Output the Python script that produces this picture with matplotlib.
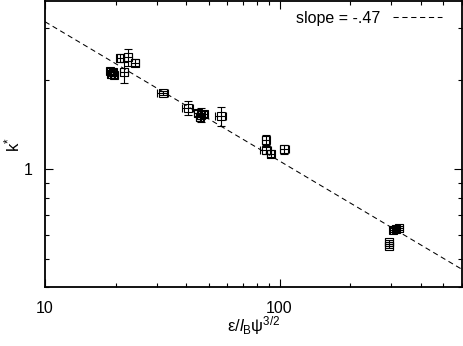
import matplotlib
matplotlib.use("Agg")
import matplotlib.pyplot as plt
import matplotlib.ticker as mticker
import numpy as np

plt.rcParams['font.family'] = ['Liberation Sans', 'DejaVu Sans']
plt.rcParams['mathtext.fontset'] = 'custom'
plt.rcParams['mathtext.rm'] = 'Liberation Sans'
plt.rcParams['mathtext.it'] = 'Liberation Sans:italic'
plt.rcParams['mathtext.bf'] = 'Liberation Sans:bold'

# data: x, x error, y (k*), y error
x_vals = [18.9, 19.5, 19.1, 19.7, 21.7, 20.9, 22.6, 24.2,
          31.8, 40.6, 44.8, 46.1, 47.5, 45.7, 56.1,
          87.2, 87.2, 91.6, 105.0,
          314.8, 324.0, 305.6, 293.8, 293.8]
x_errs = [0.6, 0.6, 0.6, 0.6, 0.9, 0.7, 0.8, 1.0,
          1.8, 2.2, 1.5, 1.5, 1.5, 1.5, 2.8,
          3.0, 5.0, 3.5, 5.0,
          12.0, 12.0, 10.0, 12.0, 12.0]
y_vals = [2.15, 2.13, 2.10, 2.08, 2.13, 2.38, 2.39, 2.29,
          1.81, 1.61, 1.55, 1.53, 1.54, 1.50, 1.51,
          1.26, 1.16, 1.13, 1.17,
          0.629, 0.634, 0.624, 0.569, 0.552]
y_errs = [0.05, 0.05, 0.06, 0.05, 0.18, 0.07, 0.15, 0.06,
          0.03, 0.09, 0.04, 0.08, 0.04, 0.04, 0.11,
          0.05, 0.03, 0.03, 0.04,
          0.01, 0.01, 0.01, 0.008, 0.008]

fit_slope = -0.47
fit_amp = 3.15      # value of fit at x = 10
fit_x = [10, 600]
fit_label = "slope = -.47"

x_tick_labels = ["10", "100"]
y_tick_labels = ["1"]

fig = plt.figure(figsize=(4.64, 3.46), dpi=100)
ax = fig.add_axes([45/464, (346-287.3)/346, 417/464, 286.3/346])

fx = np.array(fit_x, dtype=float)
fy = fit_amp * (fx / 10.0) ** fit_slope
ax.plot(fx, fy, color='black', lw=0.75, linestyle=(0, (5, 3.5)), label=fit_label)

ax.errorbar(x_vals, y_vals, xerr=x_errs, yerr=y_errs, fmt='s', mfc='none',
            mec='black', mew=0.8, ms=5.2, ecolor='black', elinewidth=0.8,
            capsize=2.8, capthick=0.8, color='black')

ax.set_xscale('log')
ax.set_yscale('log')
ax.set_xlim(10, 600)
ax.set_ylim(0.4, 3.7)

ax.xaxis.set_major_locator(mticker.FixedLocator([10, 100]))
ax.xaxis.set_major_formatter(mticker.FixedFormatter(x_tick_labels))
ax.xaxis.set_minor_locator(mticker.LogLocator(base=10, subs=np.arange(2, 10)))
ax.xaxis.set_minor_formatter(mticker.NullFormatter())
ax.yaxis.set_major_locator(mticker.FixedLocator([1]))
ax.yaxis.set_major_formatter(mticker.FixedFormatter(y_tick_labels))
ax.yaxis.set_minor_locator(mticker.LogLocator(base=10, subs=np.arange(2, 10)))
ax.yaxis.set_minor_formatter(mticker.NullFormatter())

ax.tick_params(which='both', direction='in', top=True, right=True, width=0.8,
               labelsize=11.5, colors='black')
ax.tick_params(which='major', length=6)
ax.tick_params(which='minor', length=3)
ax.tick_params(axis='x', which='major', pad=10)
ax.tick_params(axis='y', which='major', pad=9)
for sp in ax.spines.values():
    sp.set_linewidth(1.3)

ax.set_xlabel(r'$\mathrm{ε}/\mathit{l}_{\mathrm{B}}\mathrm{ψ}^{\mathrm{3/2}}$', fontsize=12)
ax.xaxis.set_label_coords(0.5, -0.092)
ax.set_ylabel(r'$\mathrm{k}^{*}$', fontsize=12)
ax.yaxis.set_label_coords(-0.055, 0.5)

ax.legend(loc='upper right', bbox_to_anchor=(0.952, 0.965), frameon=False,
          markerfirst=False, handlelength=3.05, handletextpad=0.8,
          borderaxespad=0, borderpad=0, fontsize=11.5)

fig.savefig('out.png', dpi=100)
